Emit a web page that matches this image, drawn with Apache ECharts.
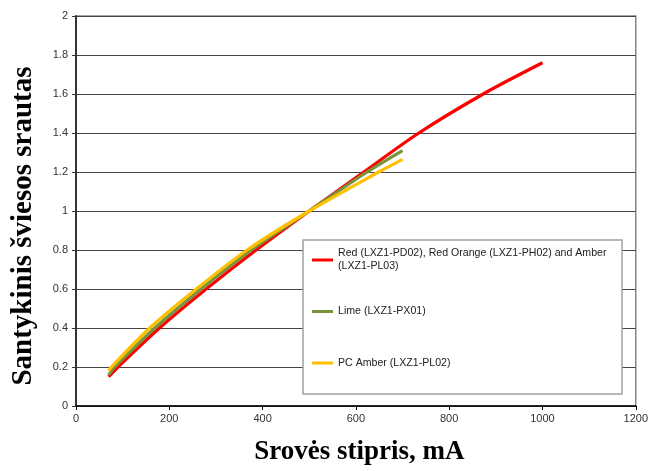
<!DOCTYPE html>
<html>
<head>
<meta charset="utf-8">
<script src="https://cdn.jsdelivr.net/npm/echarts@6/dist/echarts.min.js"></script>
<style>
html,body{margin:0;padding:0;background:#fff;}
#chart{width:651px;height:471px;}
</style>
</head>
<body>
<div id="chart"></div>
<script>
// ---- Data ----
var redName = 'Red (LXZ1-PD02), Red Orange (LXZ1-PH02) and Amber (LXZ1-PL03)';
var limeName = 'Lime (LXZ1-PX01)';
var amberName = 'PC Amber (LXZ1-PL02)';

var redCurrent  = [70, 90, 179, 279, 386, 500, 617, 735, 873, 1000];
var redFlux     = [0.15, 0.2, 0.4, 0.6, 0.8, 1.0, 1.2, 1.4, 1.6, 1.76];

var limeCurrent = [70, 83, 169, 268, 376, 500, 624, 700];
var limeFlux    = [0.16, 0.2, 0.4, 0.6, 0.8, 1.0, 1.2, 1.31];

var amberCurrent = [70, 76, 158, 258, 367, 500, 649, 700];
var amberFlux    = [0.18, 0.2, 0.4, 0.6, 0.8, 1.0, 1.2, 1.265];

var xTitle = 'Srovės stipris, mA';
var yTitle = 'Santykinis šviesos srautas';

function pairs(xs, ys) {
  var out = [];
  for (var i = 0; i < xs.length; i++) out.push([xs[i], ys[i]]);
  return out;
}

var chart = echarts.init(document.getElementById('chart'), null, {renderer: 'canvas'});

var lineCommon = {type: 'line', smooth: 0.3, showSymbol: false, symbol: 'none'};

var option = {
  backgroundColor: '#ffffff',
  animation: false,
  grid: {left: 76, right: 14, top: 16, bottom: 62, show: true, borderColor: '#888', borderWidth: 1.5, backgroundColor: 'transparent'},
  graphic: [{
    type: 'rect', z: 5,
    shape: {x: 303, y: 240, width: 319, height: 154},
    style: {fill: '#fff', stroke: '#a0a0a0', lineWidth: 1.5}
  }],
  legend: {
    orient: 'vertical',
    left: 312, top: 240.5, padding: 0,
    itemGap: 12.5,
    itemWidth: 21, itemHeight: 3,
    icon: 'rect',
    z: 10,
    textStyle: {fontFamily: 'Liberation Sans, Arial, sans-serif', fontSize: 10.6, color: '#222', lineHeight: 13},
    formatter: function (n) { return n.replace(' and Amber (', ' and Amber\n('); },
    data: [
      {name: redName, textStyle: {padding: [13, 0, 0, 0]}},
      {name: limeName, textStyle: {padding: [13, 0, 13, 0]}},
      {name: amberName, textStyle: {padding: [13, 0, 13, 0]}}
    ]
  },
  xAxis: {
    type: 'value', min: 0, max: 1200, interval: 200,
    name: xTitle, nameLocation: 'middle', nameGap: 33,
    nameTextStyle: {fontFamily: 'Liberation Serif, Times New Roman, serif', fontWeight: 'bold', fontSize: 27, color: '#000', padding: [0, 0, 0, 7]},
    axisLine: {show: true, lineStyle: {color: '#000', width: 1.5}},
    axisTick: {show: true, length: 4, lineStyle: {color: '#000'}},
    axisLabel: {fontFamily: 'Liberation Sans, Arial, sans-serif', fontSize: 11, color: '#333', margin: 7,
      formatter: function (v) { return String(v); }},
    splitLine: {show: false}
  },
  yAxis: {
    type: 'value', min: 0, max: 2, interval: 0.2,
    name: yTitle, nameLocation: 'middle', nameGap: 38,
    nameTextStyle: {fontFamily: 'Liberation Serif, Times New Roman, serif', fontWeight: 'bold', fontSize: 29, color: '#000', padding: [0, 30, 0, 0]},
    axisLine: {show: true, lineStyle: {color: '#333', width: 2}},
    axisTick: {show: true, length: 4, lineStyle: {color: '#333'}},
    axisLabel: {fontFamily: 'Liberation Sans, Arial, sans-serif', fontSize: 11, color: '#333', margin: 8,
      formatter: function (v) { return String(Math.round(v * 10) / 10); }},
    splitLine: {show: true, lineStyle: {color: '#444', width: 1.2}}
  },
  series: [
    Object.assign({}, lineCommon, {name: redName,
     data: pairs(redCurrent, redFlux), color: '#ff0000', lineStyle: {width: 3.2, color: '#ff0000'}}),
    Object.assign({}, lineCommon, {name: limeName,
     data: pairs(limeCurrent, limeFlux), color: '#77933c', lineStyle: {width: 3.2, color: '#77933c'}}),
    Object.assign({}, lineCommon, {name: amberName,
     data: pairs(amberCurrent, amberFlux), color: '#ffc000', lineStyle: {width: 3.2, color: '#ffc000'}})
  ]
};
chart.setOption(option);
</script>
</body>
</html>
